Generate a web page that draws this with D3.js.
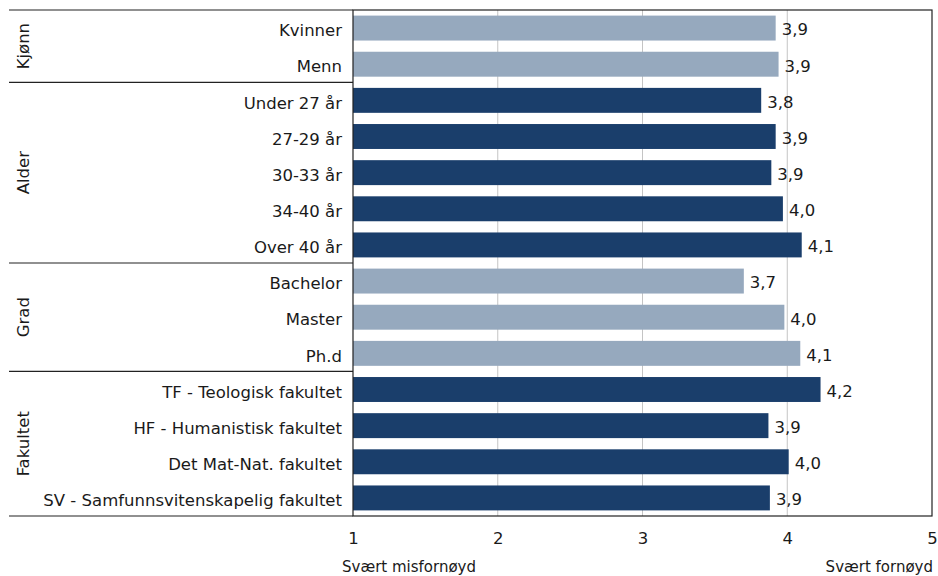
<!DOCTYPE html>
<html><head><meta charset="utf-8">
<script src="https://cdn.jsdelivr.net/npm/d3@7"></script>
<style>body{margin:0;background:#fff;} svg{display:block;font-family:"DejaVu Sans",Verdana,sans-serif;}</style>
</head><body><svg id="c" width="938" height="576"></svg>
<script>
const categories = ["Kvinner","Menn","Under 27 år","27-29 år","30-33 år","34-40 år","Over 40 år","Bachelor","Master","Ph.d","TF - Teologisk fakultet","HF - Humanistisk fakultet","Det Mat-Nat. fakultet","SV - Samfunnsvitenskapelig fakultet"];
const values = [3.92,3.94,3.82,3.92,3.89,3.97,4.10,3.70,3.98,4.09,4.23,3.87,4.01,3.88];
const valueLabels = ["3,9","3,9","3,8","3,9","3,9","4,0","4,1","3,7","4,0","4,1","4,2","3,9","4,0","3,9"];
const groups = ["Kjønn","Alder","Grad","Fakultet"];
const groupSizes = [2,5,3,4];
const tickValues = [1,2,3,4,5];
const axisEndLabels = ["Svært misfornøyd","Svært fornøyd"];

const svg = d3.select("#c");
const L = 353, R = 932, T = 10, B = 516, GL = 9;
const FS = 16.5;
const x = d3.scaleLinear().domain([1,5]).range([L,R]);
const y = d3.scaleBand().domain(categories).range([T,B]).paddingInner(0.31).paddingOuter(0.155);
const rowH = (B-T)/categories.length;
const light = "#96a9be", dark = "#1a3e6b";
const grpIdx = [];
groupSizes.forEach((n,i)=>{for(let k=0;k<n;k++) grpIdx.push(i);});

// gridlines
svg.append("g").selectAll("line").data(tickValues.slice(1,4)).join("line")
  .attr("x1",d=>x(d)).attr("x2",d=>x(d)).attr("y1",T).attr("y2",B)
  .attr("stroke","#c4c4c4").attr("stroke-width",1);

// bars
svg.append("g").selectAll("rect").data(categories).join("rect")
  .attr("x",L).attr("y",d=>y(d)).attr("height",y.bandwidth())
  .attr("width",(d,i)=>x(values[i])-L)
  .attr("fill",(d,i)=>grpIdx[i]%2===0?light:dark);

// value labels
svg.append("g").selectAll("text").data(categories).join("text")
  .attr("x",(d,i)=>x(values[i])+6).attr("y",d=>y(d)+y.bandwidth()/2)
  .attr("dy","0.45em").attr("font-size",FS).attr("fill","#1a1a1a")
  .text((d,i)=>valueLabels[i]);

// category labels
svg.append("g").selectAll("text").data(categories).join("text")
  .attr("x",L-11).attr("y",d=>y(d)+y.bandwidth()/2).attr("dy","0.5em")
  .attr("text-anchor","end").attr("font-size",FS).attr("fill","#1a1a1a").text(d=>d);

// frame
svg.append("rect").attr("x",L).attr("y",T).attr("width",R-L).attr("height",B-T)
  .attr("fill","none").attr("stroke","#222").attr("stroke-width",1.2);

// group separators and labels
let start = 0;
const bounds = [0];
groupSizes.forEach(n=>{start+=n; bounds.push(start);});
svg.append("g").selectAll("line").data(bounds).join("line")
  .attr("x1",GL).attr("x2",L).attr("y1",d=>T+d*rowH).attr("y2",d=>T+d*rowH)
  .attr("stroke","#222").attr("stroke-width",1.2);
svg.append("g").selectAll("text").data(groups).join("text")
  .attr("transform",(d,i)=>`translate(29,${T+(bounds[i]+bounds[i+1])/2*rowH}) rotate(-90)`)
  .attr("text-anchor","middle").attr("font-size",FS).attr("fill","#1a1a1a").text(d=>d);

// x axis
const ax = svg.append("g").attr("transform",`translate(0,${B})`)
  .call(d3.axisBottom(x).tickValues(tickValues).tickSize(0).tickPadding(16).tickFormat(d3.format("d")));
ax.select(".domain").remove();
ax.selectAll("text").attr("font-size",FS).attr("fill","#1a1a1a").attr("font-family","DejaVu Sans, Verdana, sans-serif");

svg.append("text").attr("x",x(1)-11).attr("y",572).attr("font-size",15).attr("fill","#1a1a1a").text(axisEndLabels[0]);
svg.append("text").attr("x",R+1).attr("y",572).attr("text-anchor","end").attr("font-size",15).attr("fill","#1a1a1a").text(axisEndLabels[1]);
</script></body></html>
